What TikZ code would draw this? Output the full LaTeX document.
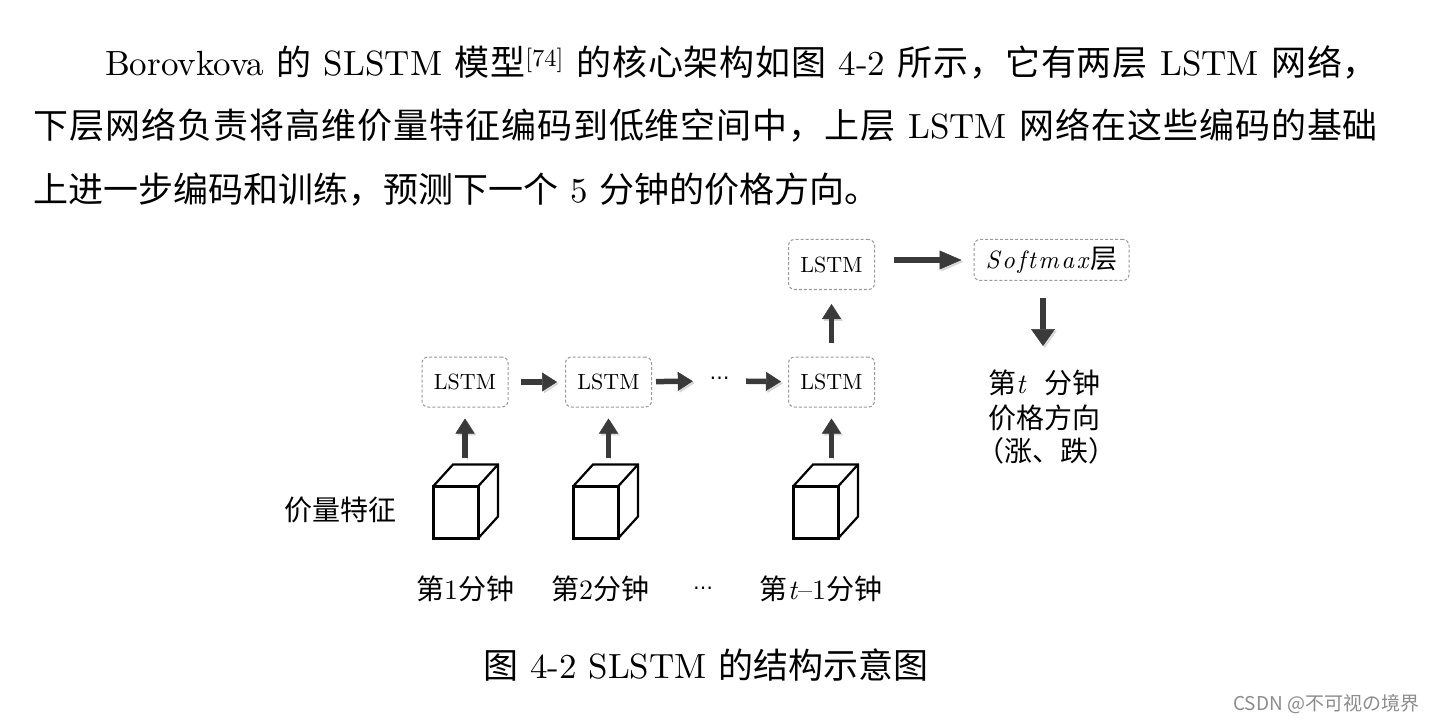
\documentclass[tikz,border=0pt]{standalone}
\usepackage{fontspec}
\setmainfont{lmroman10-regular.otf}[ItalicFont=lmroman10-italic.otf, BoldFont=lmroman10-bold.otf]
\newfontfamily\cjk{Noto Sans CJK SC}
\newfontfamily\dejavu{DejaVu Sans}
\usetikzlibrary{arrows.meta}
\definecolor{boxgray}{HTML}{9A9A9A}
\definecolor{arrowgray}{HTML}{3A3A3A}
\definecolor{wmgray}{HTML}{8C8C8C}
\newXeTeXintercharclass\myCJKcls
\count255="4E00
\loop \XeTeXcharclass\count255=\myCJKcls \ifnum\count255<"9FFF \advance\count255 1 \repeat
\XeTeXcharclass"FF0C=\myCJKcls
\XeTeXcharclass"3002=\myCJKcls
\XeTeXinterchartokenstate=1
\XeTeXinterchartoks\myCJKcls\myCJKcls={\hskip 0pt plus 6pt\relax}
\begin{document}
\begin{tikzpicture}[x=1pt,y=-1pt,
  para/.style={inner sep=0pt, outer sep=0pt, font=\fontsize{35pt}{42pt}\selectfont},
  lab/.style={inner sep=0pt, outer sep=0pt, font=\fontsize{28pt}{32pt}\selectfont},
  lstmbox/.style={draw=boxgray, line width=1pt, dash pattern=on 3pt off 2pt, rounded corners=6pt, fill=white, minimum width=86pt, minimum height=50pt, inner sep=0pt, font=\fontsize{22pt}{24pt}\selectfont},
  fat/.style={draw=arrowgray, line width=5.5pt, -{Triangle[length=15pt,width=19pt,line width=0.5pt]},
    preaction={draw=black!30, opacity=0.45, transform canvas={shift={(1.8pt,-1.8pt)}}}},
  cubef/.style={draw, line width=3pt, minimum width=45pt, minimum height=52pt, inner sep=0pt, outer sep=0pt, fill=white},
  cubel/.style={draw, line width=2.2pt, line join=miter}
]
\fill[white] (0,0) rectangle (1441,722);
\useasboundingbox (0,0) rectangle (1441,722);

% paragraph
\node[para, anchor=base west] (p1) at (105,76) {\hbox to 1273pt{Borovkova {\cjk 的} SLSTM {\cjk 模型}\textsuperscript{[74]} {\cjk 的核心架构如图} 4-2 {\cjk 所示，它有两层} LSTM {\cjk 网络，}}};
\node[para, anchor=base west] (p2) at (34,139) {\hbox to 1344pt{{\cjk 下层网络负责将高维价量特征编码到低维空间中，上层} LSTM {\cjk 网络在这些编码的基础}}};
\node[para, anchor=base west] (p3) at (34,203) {{\cjk 上进一步编码和训练，预测下一个} 5 {\cjk 分钟的价格方向。}};

% LSTM boxes
\node[lstmbox] (b1) at (465,382) {LSTM};
\node[lstmbox] (b2) at (608.5,382) {LSTM};
\node[lstmbox] (b3) at (831.5,382) {LSTM};
\node[lstmbox] (top) at (831.5,264.5) {LSTM};
\node[lstmbox, minimum width=155pt, minimum height=41pt] (soft) at (1051.5,260)
  {{\fontsize{25pt}{27pt}\selectfont\itshape S\kern2.5pt o\kern2.5pt f\kern2.5pt t\kern2.5pt m\kern2.5pt a\kern2.5pt x}\kern2pt{\fontsize{27pt}{30pt}\selectfont\cjk 层}};
\node[inner sep=0pt, minimum width=53pt, minimum height=12pt, font=\fontsize{20pt}{22pt}\selectfont\dejavu] (dts) at (719.5,381) {⋯};

% arrows
\draw[fat, shorten <=12pt, shorten >=8pt] (b1) -- (b2);
\draw[fat, shorten <=4pt] (b2) -- (dts);
\draw[fat, shorten >=7pt] (dts) -- (b3);
\draw[fat, shorten <=14pt, shorten >=14pt] (b3) -- (top);
\draw[fat, -{Triangle[length=22pt,width=19pt,line width=0.5pt]}, shorten <=19pt, shorten >=12pt] (top.east |- soft.west) -- (soft.west);
\coordinate (dt) at (1043,346);
\draw[fat, -{Triangle[length=17pt,width=24pt,line width=0.5pt]}, shorten <=17pt] (soft.south -| dt) -- (dt);

% cubes
\node[cubef] (k1) at (455.5,512.5) {};
\node[cubef] (k2) at (595.5,512.5) {};
\node[cubef] (k3) at (815.5,512.5) {};
\foreach \k in {k1,k2,k3}{
  \draw[cubel] (\k.north west) -- ++(20,-22) -- ++(45,0) -- ++(0,52) -- (\k.south east);
  \draw[cubel] (\k.north east) -- ++(20,-22);
}
\coordinate (a1) at (465,458);
\coordinate (a2) at (608.5,458);
\coordinate (a3) at (831.5,458);
\draw[fat, shorten >=11pt] (a1) -- (b1);
\draw[fat, shorten >=11pt] (a2) -- (b2);
\draw[fat, shorten >=11pt] (a3) -- (b3);

% labels
\node[lab, anchor=base] (feat) at (340.5,520) {\cjk 价量特征};
\node[lab, anchor=base] (l1) at (465,599) {{\cjk 第}1{\cjk 分钟}};
\node[lab, anchor=base] (l2) at (600,599) {{\cjk 第}2{\cjk 分钟}};
\node[inner sep=0pt, anchor=base, font=\fontsize{20pt}{22pt}\selectfont\dejavu] (l3) at (703,594) {⋯};
\node[lab, anchor=base] (l4) at (821,599) {{\cjk 第}\textit{t}--1{\cjk 分钟}};

\node[lab, anchor=base west] (o1) at (988,393) {{\cjk 第}\makebox[28pt][l]{\itshape t}{\cjk 分钟}};
\node[lab, anchor=base west] (o2) at (988,428) {\cjk 价格方向};
\node[lab, anchor=base west] (o3) at (976,461) {\cjk （涨、跌）};

% caption
\node[para, anchor=base] (cap) at (706,678) {{\cjk 图} 4-2 SLSTM {\cjk 的结构示意图}};

% watermark
\node[inner sep=0pt, anchor=base west, text=wmgray, font=\cjk\fontsize{19pt}{21pt}\selectfont] (wm) at (1233,710) {CSDN @不可视の境界};
\end{tikzpicture}
\end{document}
